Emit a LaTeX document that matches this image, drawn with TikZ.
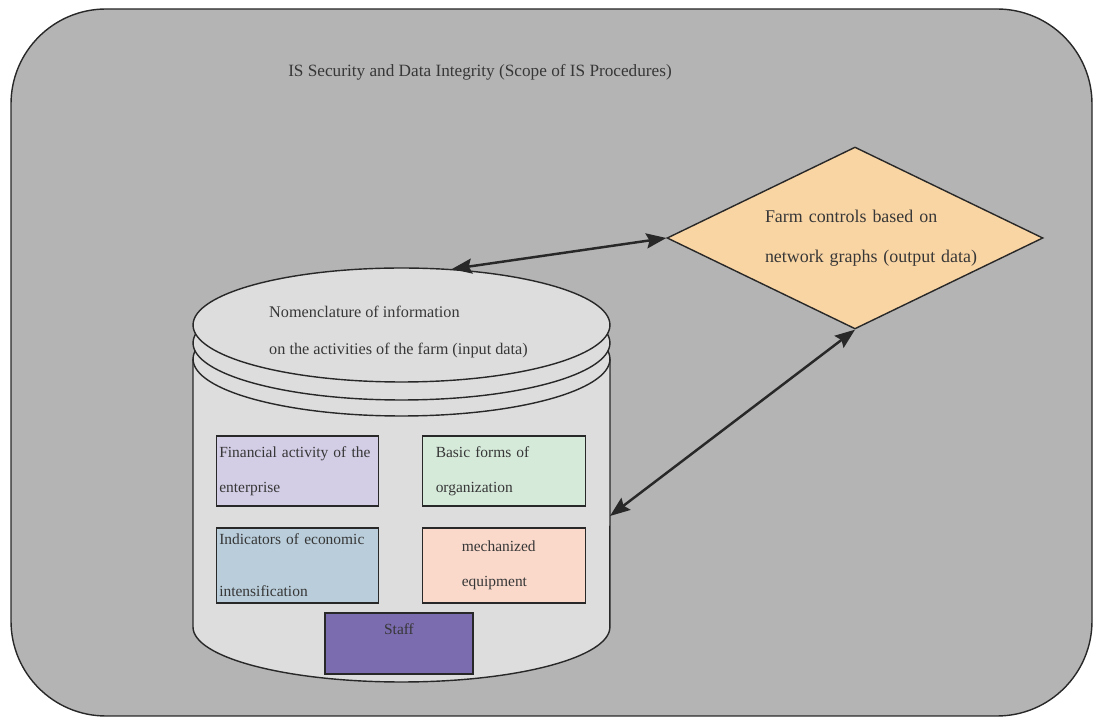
\documentclass[tikz,border=0pt]{standalone}
\usepackage{fontspec}
\setmainfont{Liberation Serif}
\usepackage{tikz}
\usetikzlibrary{shapes.geometric,arrows.meta,positioning}

\definecolor{panelgray}{RGB}{179,180,179}
\definecolor{cylgray}{RGB}{220,221,220}
\definecolor{linegray}{RGB}{40,40,40}
\definecolor{textgray}{RGB}{55,55,55}
\definecolor{finfill}{RGB}{211,205,230}
\definecolor{orgfill}{RGB}{214,234,218}
\definecolor{indfill}{RGB}{185,205,218}
\definecolor{mechfill}{RGB}{250,217,203}
\definecolor{stafffill}{RGB}{123,107,175}
\definecolor{ctrlfill}{RGB}{250,213,164}

\begin{document}
\begin{tikzpicture}[x=0.02cm, y=0.02cm,
        every node/.style={text=textgray, font=\fontsize{8.8}{20}\selectfont},
        disk/.style={ellipse, draw=linegray, line width=0.8pt, fill=cylgray,
            minimum width=8.34cm, minimum height=2.28cm, inner sep=0pt},
        box/.style={draw=linegray, line width=0.8pt, minimum width=3.25cm,
            align=left, inner ysep=0pt},
        link/.style={{Stealth[length=0.4cm,width=0.3cm,inset=0.06cm]}-{Stealth[length=0.4cm,width=0.3cm,inset=0.06cm]},
            line width=1.4pt, draw=linegray}]
    \useasboundingbox (0,0) rectangle (1093,717);
    \draw[fill=panelgray, draw=linegray, line width=0.8pt, rounded corners=1.9cm] (11,708) rectangle (1092,1);
    \node[font=\fontsize{9.8}{20}\selectfont] (title) at (480,645) {IS Security and Data Integrity (Scope of IS Procedures)};

    % database
    \draw[fill=cylgray, draw=linegray, line width=0.8pt] (193,358) -- (193,90)
        arc[start angle=180, end angle=360, x radius=4.17cm, y radius=1.1cm] -- (610,358);
    \node[disk] (ring2) at (401.5,358) {};
    \node[disk] (ring1) at (401.5,374) {};
    \node[disk] (db) at (401.5,392) {};
    \node[anchor=west, align=left, font=\fontsize{9.25}{21}\selectfont] (dbtext) at (263,385)
        {Nomenclature of information\\on the activities of the farm (input data)};
    \coordinate (dbside) at (610,201);

    \node[box, fill=finfill, minimum height=1.4cm, text width=3.13cm, inner xsep=0.06cm] (fin) at (297.5,246)
        {Financial activity of the\\enterprise};
    \node[box, fill=orgfill, minimum height=1.4cm, text width=2.73cm, inner xsep=0.26cm] (org) at (504,246)
        {Basic forms of\\organization};
    \node[box, fill=indfill, minimum height=1.5cm, text width=3.13cm, inner xsep=0.06cm] (ind) at (297.5,151.5)
        {Indicators of economic\\[0.34cm]intensification};
    \node[box, fill=mechfill, minimum height=1.5cm, text width=1.69cm, inner xsep=0.78cm] (mech) at (504,151.5)
        {mechanized\\equipment};
    \node[box, fill=stafffill, minimum width=2.96cm, align=center, text height=0.44cm, text depth=0.78cm] (staff) at (399,73.5)
        {Staff};

    % output
    \node[diamond, draw=linegray, line width=0.8pt, fill=ctrlfill, minimum width=7.52cm, minimum height=3.64cm,
        aspect=2, inner sep=0pt, text width=3.6cm, align=left, font=\fontsize{10.2}{23}\selectfont] (ctrl) at (855,479)
        {\mbox{Farm controls based on}\\\mbox{network graphs (output data)}};

    \draw[link] (db.48) -- (ctrl.west);
    \draw[link] (ctrl.south) -- (dbside);
\end{tikzpicture}
\end{document}
